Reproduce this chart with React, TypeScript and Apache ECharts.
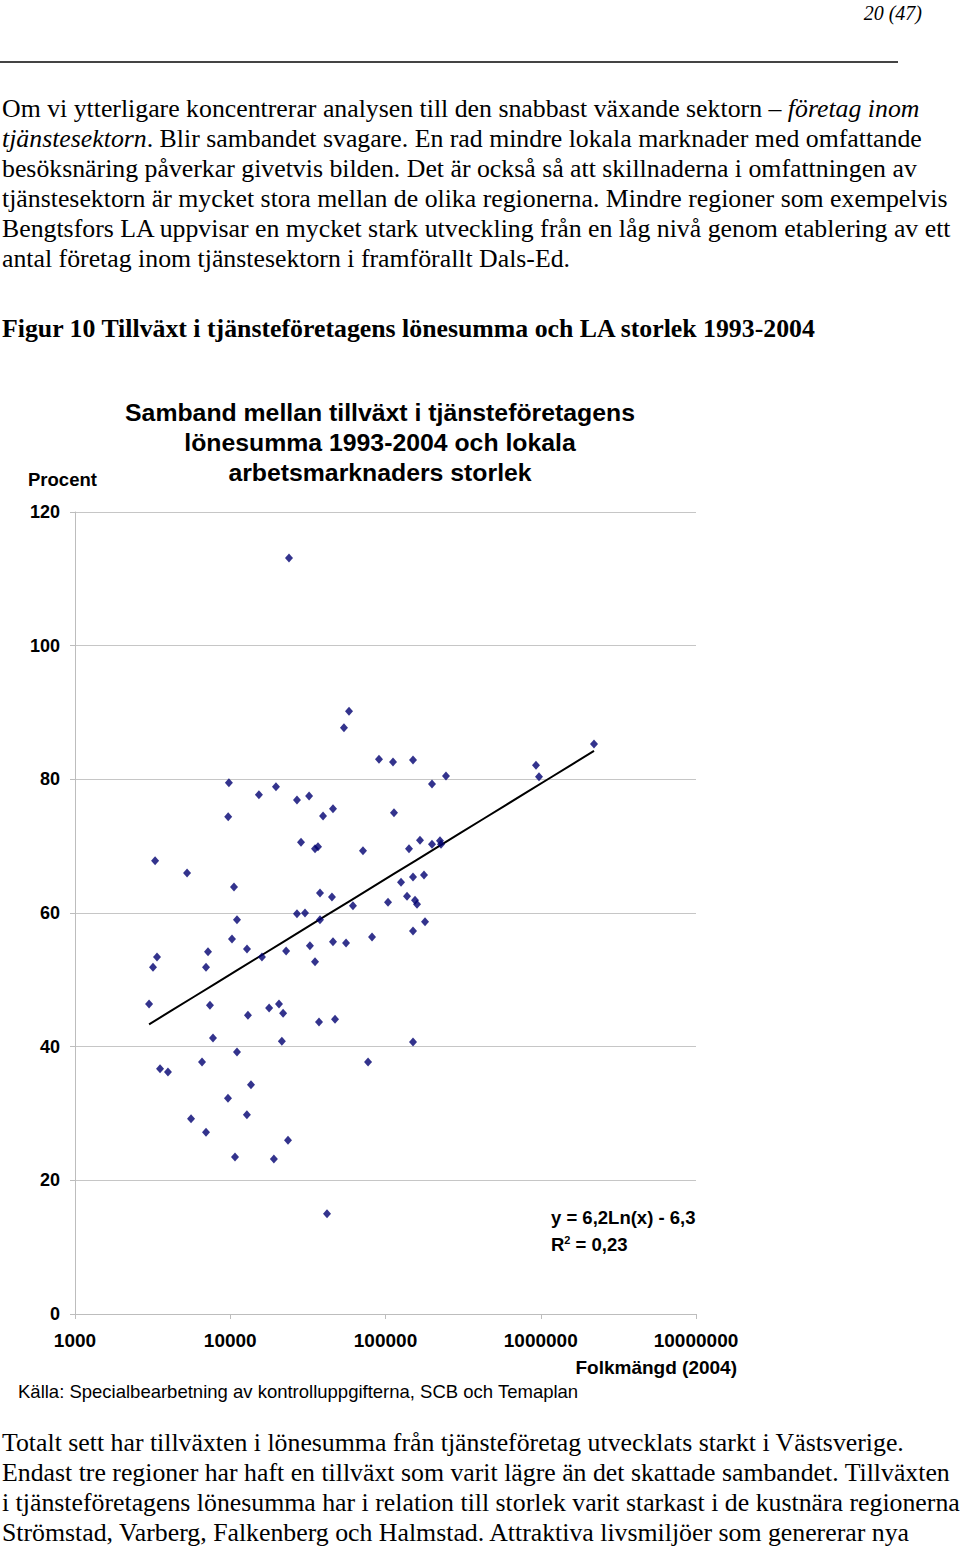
import React, { useEffect, useRef } from "react";
import * as echarts from "echarts";

// ---- Data ----
const population = [
  23900, 58200, 54000, 9800, 19700, 15300, 26900, 32200, 45900, 39600,
  9700, 90800, 111800, 150400, 245200, 199300, 932000, 974400, 2203000, 113400,
  3280, 5270, 10570, 28560, 35160, 36750, 71600, 141700, 166800, 199300,
  224400, 227800, 125900, 150400, 177000, 137600, 154900, 159600, 103800, 61700,
  26900, 30300, 37850, 45200, 11050, 37850, 179700, 150400, 81900, 32600,
  45900, 55700, 35160, 10260, 12820, 7190, 3375, 3180, 6980, 16000,
  22900, 3000, 7400, 13000, 17800, 20600, 21900, 37300, 47300, 7740,
  21500, 150400, 11050, 6580, 77200, 3530, 3970, 13600, 9670, 5590,
  12800, 6980, 23550, 10730, 19100, 42000,
];
const growth = [
  113.1, 90.2, 87.7, 79.5, 78.9, 77.7, 76.9, 77.5, 75.6, 74.5,
  74.4, 83.0, 82.6, 82.9, 80.5, 79.3, 82.1, 80.4, 85.3, 75.0,
  67.8, 66.0, 63.9, 70.6, 69.6, 69.9, 69.3, 69.6, 70.9, 70.3,
  70.8, 70.3, 64.6, 65.4, 65.7, 62.5, 61.9, 61.3, 61.6, 61.1,
  59.9, 60.0, 63.0, 62.4, 59.0, 59.0, 58.7, 57.3, 56.4, 55.1,
  55.7, 55.5, 52.7, 56.1, 54.6, 54.2, 53.4, 51.9, 51.9, 53.4,
  54.3, 46.4, 46.2, 44.7, 45.8, 46.4, 45.0, 43.7, 44.1, 41.3,
  40.8, 40.7, 39.2, 37.7, 37.7, 36.7, 36.2, 34.3, 32.3, 29.2,
  29.8, 27.2, 26.0, 23.5, 23.2, 15.0,
];
// Logarithmic trend line: y = 6,2 Ln(x) - 6,3
const trendSlope = 6.2;
const trendIntercept = -6.3;
const xTickMin = 1000;
const xTickMax = 10000000;
const yTicks = [0, 20, 40, 60, 80, 100, 120];

const topParagraph = [
  "Om vi ytterligare koncentrerar analysen till den snabbast växande sektorn – {i|företag inom}",
  "{i|tjänstesektorn}. Blir sambandet svagare. En rad mindre lokala marknader med omfattande",
  "besöksnäring påverkar givetvis bilden. Det är också så att skillnaderna i omfattningen av",
  "tjänstesektorn är mycket stora mellan de olika regionerna. Mindre regioner som exempelvis",
  "Bengtsfors LA uppvisar en mycket stark utveckling från en låg nivå genom etablering av ett",
  "antal företag inom tjänstesektorn i framförallt Dals-Ed.",
];
const bottomParagraph = [
  "Totalt sett har tillväxten i lönesumma från tjänsteföretag utvecklats starkt i Västsverige.",
  "Endast tre regioner har haft en tillväxt som varit lägre än det skattade sambandet. Tillväxten",
  "i tjänsteföretagens lönesumma har i relation till storlek varit starkast i de kustnära regionerna",
  "Strömstad, Varberg, Falkenberg och Halmstad. Attraktiva livsmiljöer som genererar nya",
];
const caption = "Figur 10 Tillväxt i tjänsteföretagens lönesumma och LA storlek 1993-2004";
const titleLines = [
  "Samband mellan tillväxt i tjänsteföretagens",
  "lönesumma 1993-2004 och lokala",
  "arbetsmarknaders storlek",
];

const SERIF = "'Liberation Serif', 'Times New Roman', serif";
const SANS = "'Liberation Sans', Arial, Helvetica, sans-serif";
const BODY_SIZE = 25.8;

function serifLine(text: string, y: number, x = 2) {
  return {
    type: "text",
    x,
    y,
    silent: true,
    style: {
      text,
      fill: "#000",
      fontFamily: SERIF,
      fontSize: BODY_SIZE,
      align: "left",
      verticalAlign: "middle",
      textAlign: "left",
      textVerticalAlign: "middle",
      rich: {
        i: { fontFamily: SERIF, fontSize: BODY_SIZE, fontStyle: "italic", fill: "#000" },
      },
    },
  };
}

function sansText(text: string, x: number, y: number, size: number, bold: boolean, align = "left", rich?: any) {
  return {
    type: "text",
    x,
    y,
    silent: true,
    style: {
      text,
      fill: "#000",
      fontFamily: SANS,
      fontSize: size,
      fontWeight: bold ? "bold" : "normal",
      align,
      verticalAlign: "middle",
      textAlign: align,
      textVerticalAlign: "middle",
      rich,
    },
  };
}

export default function App() {
  const ref = useRef<HTMLDivElement>(null);
  useEffect(() => {
    if (!ref.current) return;
    const chart = echarts.init(ref.current, undefined, { renderer: "svg" });

    const points = population.map((p, i) => [p, growth[i]]);
    const lnMin = Math.log(Math.min(...population));
    const lnMax = Math.log(Math.max(...population));
    const trend: number[][] = [];
    const steps = 20;
    for (let k = 0; k <= steps; k++) {
      const ln = lnMin + ((lnMax - lnMin) * k) / steps;
      trend.push([Math.exp(ln), trendSlope * ln + trendIntercept]);
    }

    const graphic: any[] = [];
    graphic.push({
      type: "text",
      x: 922,
      y: 13,
      silent: true,
      style: {
        text: "20 (47)",
        fill: "#000",
        fontFamily: SERIF,
        fontSize: 20,
        fontStyle: "italic",
        align: "right",
        verticalAlign: "middle",
        textAlign: "right",
        textVerticalAlign: "middle",
      },
    });
    graphic.push({
      type: "line",
      silent: true,
      shape: { x1: 0, y1: 62, x2: 898, y2: 62 },
      style: { stroke: "#444", lineWidth: 2 },
    });
    topParagraph.forEach((t, i) => graphic.push(serifLine(t, 108 + i * 30.1)));
    graphic.push({
      type: "text",
      x: 2,
      y: 328,
      silent: true,
      style: {
        text: caption,
        fill: "#000",
        fontFamily: SERIF,
        fontSize: BODY_SIZE,
        fontWeight: "bold",
        align: "left",
        verticalAlign: "middle",
        textAlign: "left",
        textVerticalAlign: "middle",
      },
    });
    bottomParagraph.forEach((t, i) => graphic.push(serifLine(t, 1442 + i * 30)));
    titleLines.forEach((t, i) => graphic.push(sansText(t, 380, 412 + i * 30, 24.8, true, "center")));
    graphic.push(sansText("Procent", 28, 479, 18.5, true));
    graphic.push(sansText("y = 6,2Ln(x) - 6,3", 551, 1217, 18.5, true));
    graphic.push(
      sansText("{b|R}{s|2}{b| = 0,23}", 551, 1244, 18.5, true, "left", {
        b: { fontFamily: SANS, fontSize: 18.5, fontWeight: "bold", fill: "#000" },
        s: { fontFamily: SANS, fontSize: 11, fontWeight: "bold", fill: "#000", verticalAlign: "top" },
      })
    );
    graphic.push(sansText("Folkmängd (2004)", 737, 1367, 19, true, "right"));
    graphic.push(sansText("Källa: Specialbearbetning av kontrolluppgifterna, SCB och Temaplan", 18, 1391, 18.5, false));

    const axisColor = "#bdbdbd";
    chart.setOption({
      animation: false,
      backgroundColor: "#fff",
      grid: { left: 75, top: 512, width: 621, height: 802, containLabel: false },
      xAxis: {
        type: "log",
        logBase: 10,
        min: xTickMin,
        max: xTickMax,
        axisLine: { show: true, lineStyle: { color: axisColor, width: 1 } },
        axisTick: { show: true, length: 5, lineStyle: { color: axisColor } },
        splitLine: { show: false },
        minorTick: { show: false },
        axisLabel: {
          formatter: (v: number) => String(Math.round(v)),
          fontFamily: SANS,
          fontWeight: "bold",
          fontSize: 19,
          color: "#000",
          margin: 17,
        },
      },
      yAxis: {
        type: "value",
        min: yTicks[0],
        max: yTicks[yTicks.length - 1],
        interval: yTicks[1] - yTicks[0],
        axisLine: { show: true, lineStyle: { color: axisColor, width: 1 } },
        axisTick: { show: true, length: 5, lineStyle: { color: axisColor } },
        splitLine: { show: true, lineStyle: { color: "#c6c6c6", width: 1 } },
        axisLabel: {
          fontFamily: SANS,
          fontWeight: "bold",
          fontSize: 18,
          color: "#000",
          margin: 15,
        },
      },
      series: [
        {
          type: "scatter",
          data: points,
          symbol: "diamond",
          symbolSize: [8, 9],
          itemStyle: { color: "#000070" },
          z: 3,
        },
        {
          type: "line",
          data: trend,
          showSymbol: false,
          symbol: "none",
          lineStyle: { color: "#000", width: 2 },
          z: 2,
        },
      ],
      graphic,
    });
    return () => chart.dispose();
  }, []);
  return (
    <div
      ref={ref}
      style={{ position: "absolute", left: 0, top: 0, width: 960, height: 1549, background: "#fff" }}
    />
  );
}
